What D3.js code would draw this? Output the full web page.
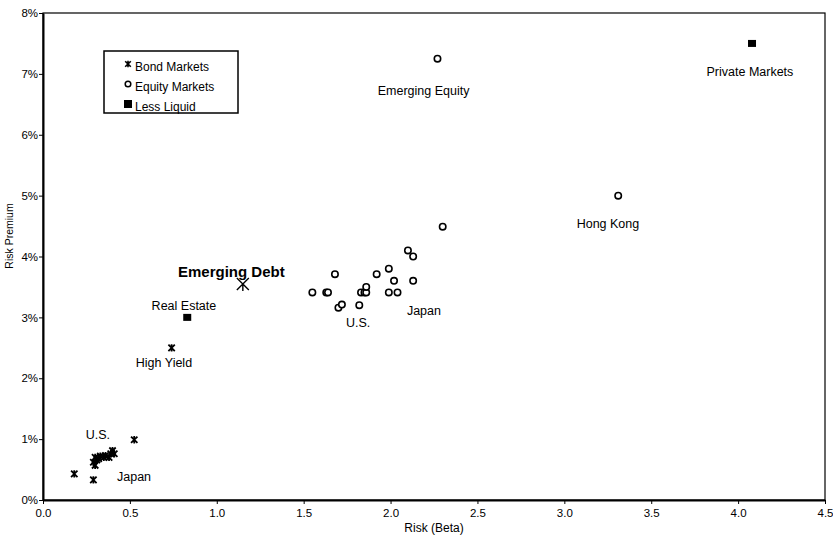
<!DOCTYPE html>
<html><head><meta charset="utf-8">
<script src="https://cdn.jsdelivr.net/npm/d3@7"></script>
<style>
body{margin:0;background:#fff;}
text{font-family:"Liberation Sans",Arial,sans-serif;fill:#000;}
</style></head>
<body><svg id="c" width="833" height="537"></svg>
<script>
// Data (beta, risk premium %)
const bondMarkets = [
  [0.18,0.43],[0.29,0.33],[0.525,0.99],
  [0.29,0.62],[0.30,0.57],[0.31,0.66],[0.30,0.70],[0.32,0.68],[0.33,0.72],
  [0.35,0.70],[0.36,0.73],[0.38,0.70],[0.39,0.76],[0.40,0.81],[0.41,0.76],
  [0.74,2.50]
];
const emergingDebt = [[1.15,3.55]];
const equityMarkets = [
  [2.27,7.25],[3.31,5.00],[2.30,4.49],[2.10,4.10],[2.13,4.00],
  [1.68,3.71],[1.92,3.71],[1.99,3.80],[2.02,3.60],[2.13,3.60],
  [1.55,3.41],[1.63,3.41],[1.64,3.41],[1.83,3.41],[1.85,3.41],[1.86,3.41],[1.86,3.50],
  [1.99,3.41],[2.04,3.41],[1.70,3.16],[1.72,3.21],[1.82,3.20]
];
const lessLiquid = [[0.83,3.00],[4.08,7.50]];
const labels = [
  {t:"Emerging Equity",x:2.19,y:6.66},
  {t:"Private Markets",x:4.068,y:6.97},
  {t:"Hong Kong",x:3.251,y:4.476},
  {t:"Japan",x:2.192,y:3.031},
  {t:"U.S.",x:1.813,y:2.85},
  {t:"Real Estate",x:0.811,y:3.113},
  {t:"High Yield",x:0.696,y:2.177},
  {t:"U.S.",x:0.316,y:1.01},
  {t:"Japan",x:0.524,y:0.32}
];
const xTicks = [0,0.5,1,1.5,2,2.5,3,3.5,4,4.5];
const yTicks = [0,1,2,3,4,5,6,7,8];
const legendItems = ["Bond Markets","Equity Markets","Less Liquid"];

const svg = d3.select("#c");
const x = d3.scaleLinear().domain([0,4.5]).range([43,825]);
const y = d3.scaleLinear().domain([0,8]).range([500,13]);

// frame
svg.append("rect").attr("x",43).attr("y",13).attr("width",782).attr("height",487)
  .attr("fill","none").attr("stroke","#000").attr("stroke-width",1.2);

const xa = svg.append("g").attr("transform","translate(0,500)")
  .call(d3.axisBottom(x).tickValues(xTicks).tickFormat(d3.format(".1f")).tickSize(4).tickSizeOuter(0));
const ya = svg.append("g").attr("transform","translate(43,0)")
  .call(d3.axisLeft(y).tickValues(yTicks).tickFormat(d=>d+"%").tickSize(4).tickSizeOuter(0));
[xa,ya].forEach(g=>{
  g.select(".domain").attr("stroke","#000").attr("stroke-width",2);
  g.selectAll(".tick line").attr("stroke","#000").attr("stroke-width",1);
  g.selectAll("text").attr("font-size",11.5).attr("font-family","Liberation Sans, Arial, sans-serif").attr("fill","#000");
});
xa.selectAll("text").attr("dy","0.85em");
ya.selectAll("text").attr("x",-5);

svg.append("text").attr("x",434).attr("y",532).attr("text-anchor","middle").attr("font-size",12).text("Risk (Beta)");
svg.append("text").attr("transform","translate(13,236) rotate(-90)").attr("text-anchor","middle").attr("font-size",10.5).text("Risk Premium");

function star(g,s,w){
  g.append("path").attr("d",`M${-s},${-s}L${s},${s}M${-s},${s}L${s},${-s}M0,${-s*1.15}L0,${s*1.15}`)
   .attr("stroke","#000").attr("stroke-width",w).attr("fill","none");
}
// bonds
bondMarkets.forEach(d=>{
  const g = svg.append("g").attr("transform",`translate(${x(d[0])},${y(d[1])})`);
  star(g,3.2,1.8);
});
emergingDebt.forEach(d=>{
  const g = svg.append("g").attr("transform",`translate(${x(d[0])},${y(d[1])})`);
  g.append("path").attr("d","M-6,-6L6,6M-6,6L6,-6M0,0L0,7").attr("stroke","#000").attr("stroke-width",1.4).attr("fill","none");
});
svg.append("text").attr("x",178).attr("y",277).attr("text-anchor","start")
  .attr("font-size",15).attr("font-weight","bold").text("Emerging Debt");
// equity
svg.selectAll("circle.eq").data(equityMarkets).join("circle").attr("class","eq")
  .attr("cx",d=>x(d[0])).attr("cy",d=>y(d[1])).attr("r",3.2)
  .attr("fill","#fff").attr("stroke","#000").attr("stroke-width",1.6);
// less liquid
svg.selectAll("rect.ll").data(lessLiquid).join("rect").attr("class","ll")
  .attr("x",d=>x(d[0])-4).attr("y",d=>y(d[1])-3.5).attr("width",8).attr("height",7).attr("fill","#000");

labels.forEach(l=>{
  svg.append("text").attr("x",x(l.x)).attr("y",y(l.y)).attr("text-anchor","middle").attr("font-size",12.5).text(l.t);
});

// legend
const lg = svg.append("g");
lg.append("rect").attr("x",104).attr("y",51).attr("width",134).attr("height",62).attr("fill","#fff").attr("stroke","#000").attr("stroke-width",1.5);
legendItems.forEach((t,i)=>{
  const cy = 64 + i*20;
  const g = lg.append("g").attr("transform",`translate(128,${cy})`);
  if(i===0) star(g,2.8,1.6);
  else if(i===1) g.append("circle").attr("r",2.8).attr("fill","#fff").attr("stroke","#000").attr("stroke-width",1.5);
  else g.append("rect").attr("x",-4).attr("y",-4).attr("width",8).attr("height",8).attr("fill","#000");
  lg.append("text").attr("x",135).attr("y",cy+7).attr("font-size",12).text(t);
});
</script></body></html>
